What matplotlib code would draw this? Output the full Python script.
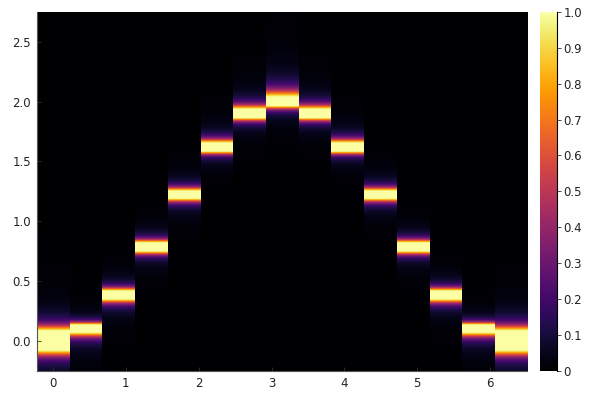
import numpy as np
import matplotlib
matplotlib.use("Agg")
import matplotlib.pyplot as plt

# column centres (x) and where each column peaks (y)
x_centres = [0.00, 0.45, 0.90, 1.35, 1.80, 2.24, 2.69, 3.14,
             3.59, 4.04, 4.49, 4.94, 5.39, 5.83, 6.28]
peak_y = [0.00, 0.10, 0.38, 0.78, 1.22, 1.62, 1.90, 2.00,
          1.90, 1.62, 1.22, 0.78, 0.38, 0.10, 0.00]
# half height of the saturated (yellow) band in each column
core_half = [0.075, 0.027, 0.030, 0.031, 0.031, 0.031, 0.031, 0.031,
             0.031, 0.031, 0.031, 0.031, 0.030, 0.027, 0.075]
# how far the glow reaches above / below the band
tail_up = [0.050, 0.025, 0.030, 0.030, 0.032, 0.035, 0.040, 0.060,
           0.040, 0.035, 0.032, 0.030, 0.030, 0.025, 0.050]
tail_down = [0.050, 0.040, 0.035, 0.030, 0.032, 0.028, 0.030, 0.030,
             0.030, 0.028, 0.032, 0.030, 0.035, 0.040, 0.050]

y_lo, y_hi = -0.25, 2.75
y_grid = np.linspace(y_lo, y_hi, 361)

# build the heat values column by column
z = np.zeros((len(y_grid), len(x_centres)))
for j in range(len(x_centres)):
    d = y_grid - peak_y[j]
    excess = np.clip(np.abs(d) - core_half[j], 0, None)
    t = np.where(d > 0, tail_up[j], tail_down[j])
    z[:, j] = 1.0 / (1.0 + (excess / t) ** 2)

dx = x_centres[1] - x_centres[0]
x_lo = x_centres[0] - dx / 2
x_hi = x_centres[-1] + dx / 2

fig = plt.figure(figsize=(6, 4), dpi=100)
ax = fig.add_axes([0.061, 0.0725, 0.817, 0.898])
cax = fig.add_axes([0.900, 0.0725, 0.028, 0.898])

im = ax.imshow(z, origin='lower', aspect='auto', cmap='inferno',
               vmin=0, vmax=1, interpolation='nearest',
               extent=(x_lo, x_hi, y_lo, y_hi))
ax.set_xlim(x_lo, x_hi)
ax.set_ylim(y_lo, y_hi)

ax.set_xticks(range(7))
ax.set_yticks([0.0, 0.5, 1.0, 1.5, 2.0, 2.5])
ax.set_yticklabels(['0.0', '0.5', '1.0', '1.5', '2.0', '2.5'])
ax.tick_params(direction='in', length=3, width=0.6, labelsize=8.5,
               color='#333333', labelcolor='#222222', pad=4)
for side in ['top', 'right']:
    ax.spines[side].set_visible(False)
for side in ['left', 'bottom']:
    ax.spines[side].set_color('#555555')
    ax.spines[side].set_linewidth(0.8)

cb = fig.colorbar(im, cax=cax)
cb.set_ticks(np.linspace(0, 1, 11))
cb.set_ticklabels(['0', '0.1', '0.2', '0.3', '0.4', '0.5',
                   '0.6', '0.7', '0.8', '0.9', '1.0'])
cb.outline.set_visible(False)
cax.spines['right'].set_visible(True)
cax.tick_params(direction='out', length=3, width=0.6, labelsize=8.5,
                color='#333333', labelcolor='#222222', pad=2)

fig.savefig('out.png', dpi=100)
